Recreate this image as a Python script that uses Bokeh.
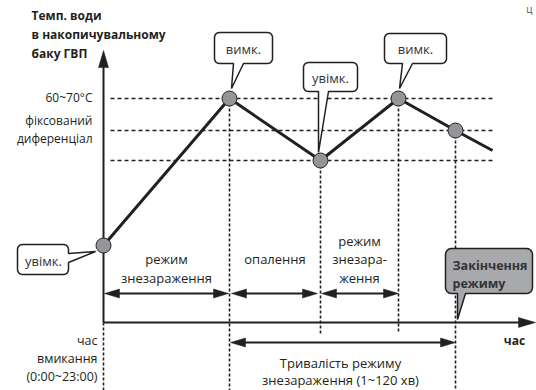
import math
from bokeh.plotting import figure
from bokeh.models import Range1d
from bokeh.core.properties import value
from bokeh.embed import file_html
from bokeh.resources import INLINE

# ---------------- data (time units, temperature units) ----------------
curve_t = [0, 126, 217, 295, 352, 389]
curve_T = [77, 224, 162, 224, 192, 172]
marker_t = [0, 126, 217, 295, 352]
marker_T = [77, 224, 162, 224, 192]
level_T = [224, 192, 162]
level_labels = ["60~70°C", "фіксований", "диференціал"]
phase_bounds = [0, 126, 217, 295]
mode_end_t = 352
phase_labels = [["режим", "знезараження"], ["опалення"], ["режим", "знезара-", "ження"]]
title_lines = ["Темп. води", "в накопичувальному", "баку ГВП"]
start_lines = ["час", "вмикання", "(0:00~23:00)"]
duration_lines = ["Тривалість режиму", "знезараження (1~120 хв)"]
end_lines = ["Закінчення", "режиму"]
x_label = "час"
on_label = "увімк."
off_label = "вимк."
corner_fragment = "ц"

INK = "#231f20"
FONT = value("Open Sans")

p = figure(width=536, height=390, output_backend="svg", toolbar_location=None,
           x_range=Range1d(-103, 433), y_range=Range1d(-68, 322),
           min_border=0)
p.axis.visible = False
p.xgrid.visible = False
p.ygrid.visible = False
p.outline_line_color = None
p.background_fill_color = "white"


def head(tx, ty, dx, dy, L=15, W=4.5):
    n = math.hypot(dx, dy)
    ux, uy = dx / n, dy / n
    bx, by = tx - L * ux, ty - L * uy
    px, py = -uy, ux
    return [tx, bx + W * px, bx - W * px], [ty, by + W * py, by - W * py]


heads_x, heads_y = [], []


def darrow(x0, x1, y):
    p.segment(x0=[x0 + 5], y0=[y], x1=[x1 - 5], y1=[y], line_color=INK, line_width=1.8)
    for hx, hy in (head(x0, y, -1, 0), head(x1, y, 1, 0)):
        heads_x.append(hx)
        heads_y.append(hy)


# dashed temperature levels
x_left = 7
x_right = curve_t[-1]
p.segment(x0=[x_left] * 3, y0=level_T, x1=[x_right] * 3, y1=level_T,
          line_color=INK, line_width=1.5, line_dash="4 3")

# vertical dotted lines
vx = [phase_bounds[0], phase_bounds[1], phase_bounds[2], phase_bounds[3], mode_end_t]
vtop = [0, marker_T[1], marker_T[2], marker_T[3], marker_T[4]]
vbot = [-80, -80, -11, -11, -80]
p.segment(x0=vx, y0=vtop, x1=vx, y1=vbot, line_color=INK, line_width=1.6, line_dash="3 2")

# axes
p.segment(x0=[0], y0=[0], x1=[0], y1=[260], line_color=INK, line_width=2)
p.segment(x0=[0], y0=[0], x1=[420], y1=[0], line_color=INK, line_width=2)
hx, hy = head(0, 272, 0, 1, L=17, W=5)
heads_x.append(hx); heads_y.append(hy)
hx, hy = head(432, 0, 1, 0, L=17, W=5)
heads_x.append(hx); heads_y.append(hy)

# phase arrows
darrow(phase_bounds[0] + 1, phase_bounds[1] - 1, 29)
darrow(phase_bounds[1] + 2, phase_bounds[2] - 3, 29)
darrow(phase_bounds[2] + 1, phase_bounds[3], 29)
darrow(phase_bounds[1] + 1, mode_end_t, -20)

p.patches(xs=heads_x, ys=heads_y, fill_color=INK, line_color=INK, line_width=0.5)

# temperature curve
p.line(curve_t, curve_T, line_color=INK, line_width=3)
p.scatter(marker_t, marker_T, size=15, fill_color="#939598", line_color=INK, line_width=1)


# callouts
def arc(cx, cy, r, a0, a1, n=6):
    return [(cx + r * math.cos(math.radians(a0 + (a1 - a0) * i / n)),
             cy + r * math.sin(math.radians(a0 + (a1 - a0) * i / n))) for i in range(n + 1)]


def callout(x0, x1, y0, y1, tail_side, ta, tb, tip, r=5):
    pts = []
    pts += arc(x0 + r, y1 - r, r, 180, 90)
    pts += arc(x1 - r, y1 - r, r, 90, 0)
    if tail_side == "right":
        pts += [(x1, ta), tip, (x1, tb)]
    pts += arc(x1 - r, y0 + r, r, 0, -90)
    if tail_side == "bottom":
        pts += [(tb, y0), tip, (ta, y0)]
    pts += arc(x0 + r, y0 + r, r, -90, -180)
    return [q[0] for q in pts], [q[1] for q in pts]


white_xs, white_ys = [], []
for args in [
    (111, 169, 259, 290, "bottom", 130, 140, (phase_bounds[1] + 2, marker_T[1] + 10)),
    (281, 343, 259, 289, "bottom", 299, 309, (phase_bounds[3] + 1, marker_T[3] + 10)),
    (200, 254, 231, 260, "bottom", 215, 225, (phase_bounds[2] - 2, marker_T[2] + 8)),
    (-86, -35, 48, 78, "right", 69, 60, (phase_bounds[0] - 8, marker_T[0] - 6)),
]:
    xs, ys = callout(*args)
    white_xs.append(xs); white_ys.append(ys)
p.patches(xs=white_xs, ys=white_ys, fill_color="white", line_color=INK, line_width=1.5)

gx, gy = callout(342, 429, 29, 74, "bottom", 354, 362, (mode_end_t + 2, 3), r=6)
p.patch(gx, gy, fill_color="#a7a9ac", line_color=INK, line_width=1.5)

p.text(x=[140, 312, 227, -60], y=[274, 274, 245, 62],
       text=[off_label, off_label, on_label, on_label],
       text_font=FONT, text_font_size="13px", text_color="#333333",
       text_align="center", text_baseline="middle")

p.text(x=[349, 349], y=[57, 39], text=end_lines, text_font=FONT, text_font_size="12.5px",
       text_font_style="bold", text_color="#333333", text_align="left", text_baseline="middle")

# texts
p.text(x=[-72] * 3, y=[307, 288, 269], text=title_lines, text_font=FONT,
       text_font_size="12px", text_font_style="bold", text_color=INK,
       text_align="left", text_baseline="middle")

p.text(x=[-11] * 3, y=[225, 202, 184], text=level_labels, text_font=FONT,
       text_font_size="12px", text_color=INK, text_align="right", text_baseline="middle")

p.text(x=[-6] * 3, y=[-18, -36, -54], text=start_lines, text_font=FONT,
       text_font_size="12.5px", text_color=INK, text_align="right", text_baseline="middle")

p.text(x=[237, 237], y=[-40, -57], text=duration_lines, text_font=FONT,
       text_font_size="13px", text_color=INK, text_align="center", text_baseline="middle")

p.text(x=[411], y=[-18], text=[x_label], text_font=FONT, text_font_size="12px",
       text_font_style="bold", text_color=INK, text_align="center", text_baseline="middle")

p.text(x=[426], y=[314], text=[corner_fragment], text_font=FONT, text_font_size="10px",
       text_color="#555555", text_align="center", text_baseline="middle")

mid1 = (phase_bounds[0] + phase_bounds[1]) / 2
mid2 = (phase_bounds[1] + phase_bounds[2]) / 2
mid3 = (phase_bounds[2] + phase_bounds[3]) / 2
p.text(x=[mid1, mid1, mid2, mid3, mid3, mid3], y=[64, 45, 64, 82, 64, 45],
       text=phase_labels[0] + phase_labels[1] + phase_labels[2],
       text_font=FONT, text_font_size="13px", text_color=INK,
       text_align="center", text_baseline="middle")

open("out.html", "w").write(file_html(p, INLINE))
